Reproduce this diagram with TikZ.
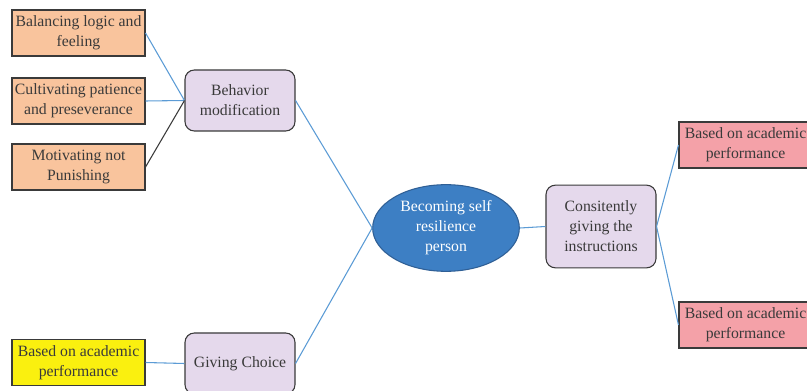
\documentclass[tikz,border=0pt]{standalone}
\usepackage{fontspec}
\setmainfont{Liberation Serif}
\usepackage{xcolor}
\usetikzlibrary{shapes,positioning,shapes.geometric}

\definecolor{peach}{HTML}{F9C49D}
\definecolor{lavender}{HTML}{E5D9EC}
\definecolor{brightyellow}{HTML}{FAF00F}
\definecolor{rosepink}{HTML}{F4A1A8}
\definecolor{hubblue}{HTML}{3D7FC4}
\definecolor{hubedge}{HTML}{2F5F95}
\definecolor{linkblue}{HTML}{5B9BD5}
\definecolor{inkgray}{HTML}{3A3A3A}

\tikzset{
  leafbox/.style={draw=inkgray, rectangle, thick, minimum width=99.75pt, minimum height=34.5pt, align=center, text=inkgray, inner sep=1pt},
  midbox/.style={draw=inkgray, rectangle, rounded corners=7pt, thick, fill=lavender, minimum width=82.5pt, minimum height=45.75pt, align=center, text=inkgray},
  link/.style={draw=linkblue, thick}
}

\begin{document}
\begin{tikzpicture}[x=0.75pt, y=-0.75pt, font=\fontsize{11.8}{15}\selectfont]
				\useasboundingbox (0,0) rectangle (807,391);
				\node[leafbox, fill=peach] (balance) at (78.5,33) {Balancing logic and\\feeling};
				\node[leafbox, fill=peach] (patience) at (78.5,101) {Cultivating patience\\and preseverance};
				\node[leafbox, fill=peach] (motivate) at (78.5,167) {Motivating not\\Punishing};
				\node[leafbox, fill=brightyellow] (academic) at (78.5,362.5) {Based on academic\\performance};
				
				\node[midbox] (behavior) at (240,100.5) {Behavior\\modification};
				\node[midbox] (choice) at (240,363.5) {Giving Choice};
				\node[midbox, minimum height=62pt] (instruct) at (601,226.5) {Consitently\\giving the\\instructions};
				
				\node[draw=hubedge, ellipse, thick, fill=hubblue, text=white, minimum width=110pt, minimum height=65pt, align=center, inner sep=0pt] (hub) at (446,228) {Becoming self\\resilience\\person};
				
				\node[leafbox, fill=rosepink] (perfup) at (745.5,145) {Based on academic\\performance};
				\node[leafbox, fill=rosepink] (perfdown) at (745.5,325) {Based on academic\\performance};
				
				\draw[link] (balance.east) -- (behavior.west);
				\draw[link] (patience.east) -- (behavior.west);
				\draw[draw=inkgray, thick] (motivate.east) -- (behavior.west);
				\draw[link] (academic.east) -- (choice.west);
				\draw[link] (behavior.east) -- (hub.west);
				\draw[link] (choice.east) -- (hub.west);
				\draw[link] (hub.east) -- (instruct.west);
				\draw[link] (instruct.east) -- (perfup.west);
				\draw[link] (instruct.east) -- (perfdown.west);
			\end{tikzpicture}
\end{document}
